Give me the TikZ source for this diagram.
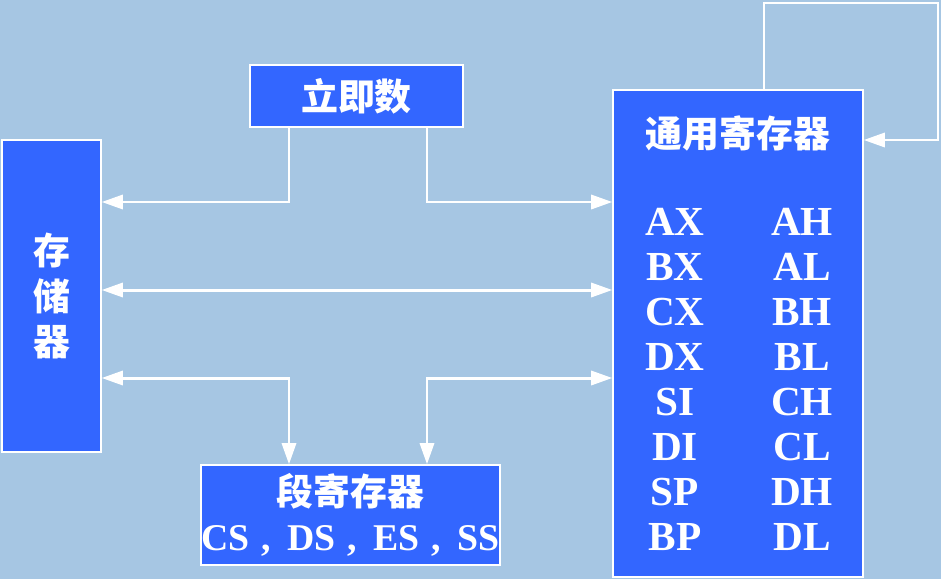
\documentclass[tikz,border=0pt]{standalone}
\usepackage{fontspec}
\setmainfont{Liberation Serif}
\newfontfamily\cjk{Noto Sans CJK SC}
\usepackage{xcolor}
\usepackage{tikz}
\usetikzlibrary{arrows.meta}
\definecolor{paleblue}{HTML}{A6C6E3}
\definecolor{unitblue}{HTML}{3366FF}

\newcommand{\regsep}{\hspace{.3em},\hspace{.45em}}

\begin{document}
\begin{tikzpicture}[
  x=0.02cm, y=-0.02cm,
  every node/.style={text=white, inner sep=0pt},
  unitbox/.style={
    draw=white,
    line width=0.8pt,
    fill=unitblue,
    align=center,
  },
  cjktext/.style={
    font=\cjk\bfseries\fontsize{21}{26}\selectfont,
  },
  regname/.style={
    font=\bfseries\fontsize{23.5}{28}\selectfont,
  },
  bus/.style={
    -{Triangle[length=12pt, width=8pt]},
    line width=1.7pt,
    draw=white,
  },
  twoway/.style={
    {Triangle[length=12pt, width=8pt]}-{Triangle[length=12pt, width=8pt]},
    line width=1.7pt,
    draw=white,
  },
]
  \fill[paleblue] (0,0) rectangle (941,579);

  \node[unitbox, cjktext, minimum width=1.98cm, minimum height=6.24cm] (mem) at (51.5,296) {存\\储\\器};
  \node[unitbox, cjktext, minimum width=4.26cm, minimum height=1.24cm] (imm) at (356.5,96) {立即数};
  \node[unitbox, minimum width=5cm, minimum height=9.74cm] (gpr) at (738,333.5) {};
  \node[cjktext] (gprtitle) at (738,133) {通用寄存器};
  \node[unitbox, minimum width=5.98cm, minimum height=2cm,
        font=\bfseries\fontsize{21.5}{26}\selectfont] (seg) at (350.5,515)
    {{\cjk\fontsize{21}{26}\selectfont 段寄存器}\\CS\regsep DS\regsep ES\regsep SS};

  \foreach \lname/\rname [count=\i] in {AX/AH, BX/AL, CX/BH, DX/BL, SI/CH, DI/CL, SP/DH, BP/DL} {
    \node[regname] (reg\lname) at (675,177+45*\i) {\lname};
    \node[regname] (reg\rname) at (802,177+45*\i) {\rname};
  }

  % bus lines
  \coordinate (colL) at (289,0);
  \coordinate (colR) at (427,0);
  \coordinate (rowA) at (0,202);
  \coordinate (rowB) at (0,290);
  \coordinate (rowC) at (0,378);
  \coordinate (loopL) at (764,3);
  \coordinate (loopR) at (938,140);

  \draw[bus] (imm.south -| colL) |- (mem.east |- rowA);
  \draw[bus] (imm.south -| colR) |- (gpr.west |- rowA);
  \draw[twoway] (mem.east |- rowB) -- (gpr.west |- rowB);
  \draw[twoway] (mem.east |- rowC) -| (seg.north -| colL);
  \draw[twoway] (gpr.west |- rowC) -| (seg.north -| colR);
  \draw[bus] (gpr.north -| loopL) -- (loopL) -| (loopR) -- (gpr.east |- loopR);
\end{tikzpicture}
\end{document}
